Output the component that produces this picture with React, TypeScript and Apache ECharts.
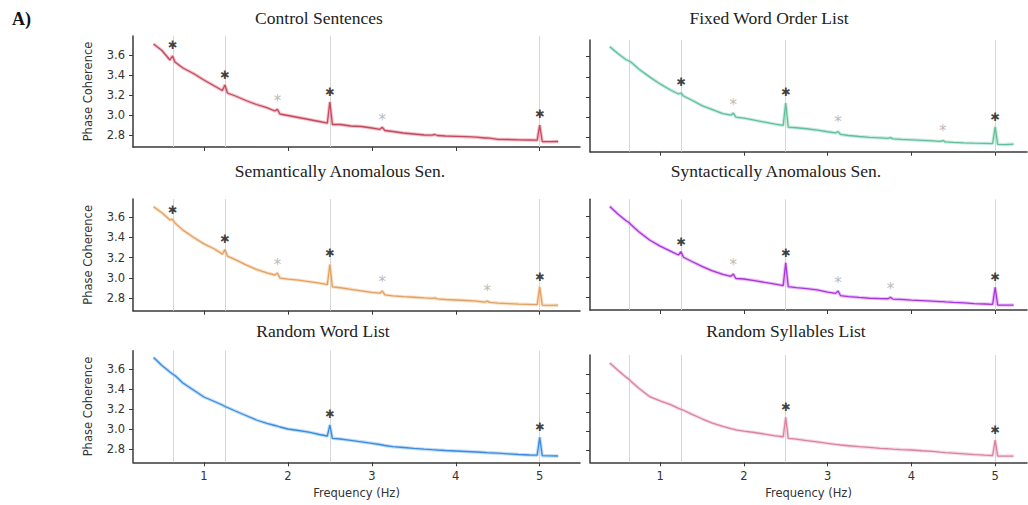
import React, { useEffect, useRef } from "react";
import * as echarts from "echarts";

// Frequencies (Hz) at which the curves are sampled
const FREQ = [
  0.4, 0.5, 0.595, 0.625, 0.655, 0.75, 0.875, 1.0, 1.125, 1.22, 1.25, 1.28, 1.375, 1.5,
  1.625, 1.75, 1.845, 1.875, 1.905, 2.0, 2.125, 2.25, 2.375, 2.47, 2.5, 2.53, 2.625, 2.75,
  2.875, 3.0, 3.095, 3.125, 3.155, 3.25, 3.375, 3.5, 3.625, 3.72, 3.75, 3.78, 3.875, 4.0,
  4.125, 4.25, 4.345, 4.375, 4.405, 4.5, 4.625, 4.75, 4.875, 4.97, 5.0, 5.03, 5.125, 5.22,
];

const CONTROL = [
  3.71, 3.645, 3.55, 3.59, 3.53, 3.47, 3.415, 3.35, 3.29, 3.245, 3.3, 3.22, 3.19, 3.145,
  3.105, 3.073, 3.04, 3.057, 3.01, 2.995, 2.975, 2.955, 2.935, 2.918, 3.13, 2.905, 2.905, 2.89,
  2.885, 2.87, 2.857, 2.877, 2.845, 2.835, 2.82, 2.81, 2.8, 2.798, 2.805, 2.795, 2.79, 2.787,
  2.783, 2.778, 2.77, 2.77, 2.768, 2.757, 2.755, 2.752, 2.75, 2.748, 2.9, 2.735, 2.733, 2.735,
];

const FIXED = [
  3.7, 3.63, 3.57, 3.56, 3.545, 3.475, 3.4, 3.33, 3.27, 3.23, 3.24, 3.21, 3.17, 3.115,
  3.075, 3.035, 3.02, 3.04, 3.0, 2.99, 2.97, 2.95, 2.93, 2.918, 3.14, 2.9, 2.895, 2.885,
  2.872, 2.855, 2.843, 2.857, 2.828, 2.818, 2.808, 2.8, 2.795, 2.79, 2.797, 2.785, 2.78, 2.775,
  2.77, 2.765, 2.76, 2.768, 2.755, 2.75, 2.745, 2.742, 2.74, 2.738, 2.905, 2.73, 2.728, 2.733,
];

const SEMANTIC = [
  3.7, 3.64, 3.57, 3.575, 3.54, 3.47, 3.4, 3.335, 3.285, 3.235, 3.28, 3.215, 3.18, 3.13,
  3.085, 3.05, 3.03, 3.05, 3.0, 2.99, 2.98, 2.965, 2.95, 2.935, 3.133, 2.914, 2.905, 2.89,
  2.875, 2.86, 2.852, 2.873, 2.835, 2.825, 2.818, 2.812, 2.805, 2.8, 2.805, 2.795, 2.79, 2.785,
  2.78, 2.773, 2.765, 2.774, 2.762, 2.755, 2.75, 2.745, 2.742, 2.74, 2.914, 2.734, 2.733, 2.734,
];

const SYNTACTIC = [
  3.7, 3.625, 3.56, 3.545, 3.52, 3.45, 3.37, 3.31, 3.26, 3.222, 3.254, 3.2, 3.16, 3.11,
  3.065, 3.03, 3.012, 3.034, 2.99, 2.985, 2.97, 2.952, 2.935, 2.92, 3.146, 2.909, 2.9, 2.89,
  2.877, 2.855, 2.843, 2.866, 2.82, 2.812, 2.803, 2.795, 2.792, 2.79, 2.804, 2.787, 2.783, 2.777,
  2.772, 2.767, 2.762, 2.762, 2.76, 2.755, 2.75, 2.742, 2.738, 2.735, 2.903, 2.728, 2.727, 2.728,
];

const RANDOM_WORD = [
  3.715, 3.635, 3.57, 3.55, 3.535, 3.46, 3.39, 3.32, 3.275, 3.24, 3.225, 3.215, 3.18, 3.135,
  3.09, 3.057, 3.035, 3.028, 3.02, 3.0, 2.985, 2.968, 2.945, 2.93, 3.04, 2.907, 2.9, 2.886,
  2.872, 2.857, 2.845, 2.84, 2.835, 2.823, 2.815, 2.806, 2.798, 2.793, 2.792, 2.79, 2.785, 2.78,
  2.775, 2.77, 2.765, 2.763, 2.762, 2.758, 2.752, 2.745, 2.74, 2.738, 2.917, 2.733, 2.732, 2.73,
];

const RANDOM_SYLL = [
  3.72, 3.64, 3.57, 3.55, 3.525, 3.45, 3.365, 3.32, 3.28, 3.24, 3.23, 3.22, 3.18, 3.13,
  3.085, 3.05, 3.025, 3.02, 3.012, 3.0, 2.985, 2.968, 2.95, 2.94, 3.145, 2.923, 2.915, 2.9,
  2.885, 2.87, 2.86, 2.857, 2.853, 2.845, 2.835, 2.827, 2.818, 2.813, 2.812, 2.81, 2.805, 2.8,
  2.792, 2.785, 2.777, 2.775, 2.773, 2.768, 2.76, 2.752, 2.745, 2.742, 2.905, 2.736, 2.735, 2.736,
];

// Significance markers [frequency, height]
const CONTROL_BLACK = [[0.625, 3.71], [1.25, 3.41], [2.5, 3.243], [5, 3.02]];
const CONTROL_GRAY = [[1.875, 3.17], [3.125, 2.983]];
const FIXED_BLACK = [[1.25, 3.359], [2.5, 3.26], [5, 3.014]];
const FIXED_GRAY = [[1.875, 3.153], [3.125, 2.979], [4.375, 2.889]];
const SEMANTIC_BLACK = [[0.625, 3.675], [1.25, 3.391], [2.5, 3.254], [5, 3.019]];
const SEMANTIC_GRAY = [[1.875, 3.159], [3.125, 2.986], [4.375, 2.898]];
const SYNTACTIC_BLACK = [[1.25, 3.363], [2.5, 3.254], [5, 3.014]];
const SYNTACTIC_GRAY = [[1.875, 3.153], [3.125, 2.975], [3.75, 2.916]];
const RANDOM_WORD_BLACK = [[2.5, 3.157], [5, 3.033]];
const RANDOM_SYLL_BLACK = [[2.5, 3.262], [5, 3.019]];

const REF_LINES = [0.625, 1.25, 2.5, 5];
const X_TICKS = [1, 2, 3, 4, 5];
const Y_TICKS = [2.8, 3.0, 3.2, 3.4, 3.6];

const PANELS = [
  { title: "Control Sentences", vals: CONTROL, black: CONTROL_BLACK, gray: CONTROL_GRAY,
    color: "#c24a5e", band: "#ec8c9c",
    grid: { left: 133, top: 36, width: 447, height: 111 }, yMin: 2.68, yMax: 3.79, xMin: 0.155, xMax: 5.48,
    tx: 319, ty: 18, isLeft: true, isBottom: false },
  { title: "Fixed Word Order List", vals: FIXED, black: FIXED_BLACK, gray: FIXED_GRAY,
    color: "#62bf9c", band: "#9edcc4",
    grid: { left: 590, top: 40, width: 437, height: 111.7 }, yMin: 2.657, yMax: 3.766, xMin: 0.164, xMax: 5.38,
    tx: 769, ty: 18, isLeft: false, isBottom: false },
  { title: "Semantically Anomalous Sen.", vals: SEMANTIC, black: SEMANTIC_BLACK, gray: SEMANTIC_GRAY,
    color: "#e2a064", band: "#f4c898",
    grid: { left: 133, top: 199, width: 447, height: 111.7 }, yMin: 2.68, yMax: 3.775, xMin: 0.155, xMax: 5.48,
    tx: 340, ty: 171, isLeft: true, isBottom: false },
  { title: "Syntactically Anomalous Sen.", vals: SYNTACTIC, black: SYNTACTIC_BLACK, gray: SYNTACTIC_GRAY,
    color: "#a936d8", band: "#d88cf4",
    grid: { left: 590, top: 199.3, width: 437, height: 110.7 }, yMin: 2.679, yMax: 3.772, xMin: 0.164, xMax: 5.38,
    tx: 776, ty: 171, isLeft: false, isBottom: false },
  { title: "Random Word List", vals: RANDOM_WORD, black: RANDOM_WORD_BLACK, gray: [],
    color: "#3a8cdc", band: "#8cc0f0",
    grid: { left: 133, top: 350.7, width: 447, height: 111.6 }, yMin: 2.667, yMax: 3.783, xMin: 0.155, xMax: 5.48,
    tx: 323, ty: 331, isLeft: true, isBottom: true },
  { title: "Random Syllables List", vals: RANDOM_SYLL, black: RANDOM_SYLL_BLACK, gray: [],
    color: "#d8849e", band: "#f2b8ca",
    grid: { left: 590, top: 355, width: 437, height: 107.3 }, yMin: 2.67, yMax: 3.804, xMin: 0.164, xMax: 5.38,
    tx: 786, ty: 331, isLeft: false, isBottom: true },
];

const SPINE = "#3a3a3a";
const SANS = "DejaVu Sans";
const SERIF = "Liberation Serif";

export default function App() {
  const ref = useRef<HTMLDivElement>(null);

  useEffect(() => {
    if (!ref.current) return;
    const chart = echarts.init(ref.current, undefined, { renderer: "svg" });

    const grids: any[] = [];
    const xAxes: any[] = [];
    const yAxes: any[] = [];
    const series: any[] = [];
    const graphics: any[] = [
      {
        type: "text", left: 12, top: 10,
        style: { text: "A)", fontSize: 18, fontWeight: "bold", fontFamily: SERIF, fill: "#111" },
      },
    ];

    PANELS.forEach((p, i) => {
      grids.push({ ...p.grid, containLabel: false });
      xAxes.push({
        gridIndex: i, type: "value", min: p.xMin, max: p.xMax,
        axisLine: { show: true, onZero: false, lineStyle: { color: SPINE, width: 1.5 } },
        axisTick: { show: true, customValues: X_TICKS, length: 4, lineStyle: { color: SPINE, width: 1 } },
        axisLabel: {
          show: p.isBottom, customValues: X_TICKS, color: "#333", fontSize: 11.5, margin: 8, fontFamily: SANS,
        },
        splitLine: { show: false },
        name: p.isBottom ? "Frequency (Hz)" : "",
        nameLocation: "middle", nameGap: 25,
        nameTextStyle: { color: "#333", fontSize: 11.5, fontFamily: SANS },
      });
      yAxes.push({
        gridIndex: i, type: "value", min: p.yMin, max: p.yMax,
        axisLine: { show: true, onZero: false, lineStyle: { color: SPINE, width: 1.5 } },
        axisTick: { show: true, customValues: Y_TICKS, length: 4, lineStyle: { color: SPINE, width: 1 } },
        axisLabel: {
          show: p.isLeft, customValues: Y_TICKS, color: "#333", fontSize: 11.5, margin: 8, fontFamily: SANS,
          formatter: (v: number) => v.toFixed(1),
        },
        splitLine: { show: false },
        name: p.isLeft ? "Phase Coherence" : "",
        nameLocation: "middle", nameGap: 39, nameRotate: 90,
        nameTextStyle: { color: "#333", fontSize: 11.5, fontFamily: SANS },
      });

      const data = FREQ.map((f, k) => [f, p.vals[k]]);
      series.push({
        type: "line", xAxisIndex: i, yAxisIndex: i, data, symbol: "none", silent: true, z: 2,
        lineStyle: { color: p.band, width: 3.4, opacity: 0.55 },
        markLine: {
          silent: true, symbol: "none", label: { show: false }, z: 1,
          lineStyle: { color: "#d6d6d6", width: 1, type: "solid" },
          data: REF_LINES.map((x) => ({ xAxis: x })),
        },
      });
      series.push({
        type: "line", xAxisIndex: i, yAxisIndex: i, data, symbol: "none", silent: true, z: 3,
        lineStyle: { color: p.color, width: 1.3 },
      });
      series.push({
        type: "scatter", xAxisIndex: i, yAxisIndex: i, data: p.black, symbol: "circle", symbolSize: 1,
        itemStyle: { color: "rgba(0,0,0,0)" }, silent: true, z: 4,
        label: {
          show: true, formatter: "\u2731", position: "inside", color: "#111", fontSize: 11.5,
          fontFamily: SANS, offset: [0, 1],
        },
      });
      if (p.gray.length) {
        series.push({
          type: "scatter", xAxisIndex: i, yAxisIndex: i, data: p.gray, symbol: "circle", symbolSize: 1,
          itemStyle: { color: "rgba(0,0,0,0)" }, silent: true, z: 4,
          label: {
            show: true, formatter: "*", position: "inside", color: "#a8a8a8", fontSize: 15,
            fontFamily: SANS, offset: [0, 3],
          },
        });
      }

      graphics.push({
        type: "text", x: p.tx, y: p.ty,
        style: {
          text: p.title, fontSize: 17.5, fontFamily: SERIF, fill: "#222",
          align: "center", verticalAlign: "middle",
        },
      });
    });

    chart.setOption({
      animation: false,
      backgroundColor: "#ffffff",
      grid: grids,
      xAxis: xAxes,
      yAxis: yAxes,
      series,
      graphic: graphics,
    });

    return () => chart.dispose();
  }, []);

  return (
    <div
      ref={ref}
      style={{ position: "absolute", left: 0, top: 0, width: 1028, height: 505 }}
    />
  );
}
